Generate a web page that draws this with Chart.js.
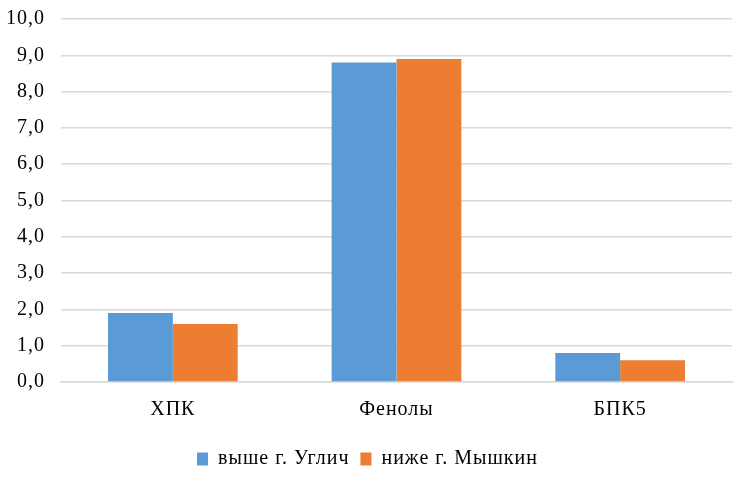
<!DOCTYPE html>
<html>
<head>
<meta charset="utf-8">
<script src="https://cdn.jsdelivr.net/npm/chart.js@4"></script>
<style>
  html, body { margin: 0; padding: 0; background: #fff; overflow: hidden; }
  #wrap { width: 735px; height: 491px; position: relative; top: -9px; }
</style>
</head>
<body>
<div id="wrap"><canvas id="chart"></canvas></div>
<script>
const categories = ['ХПК', 'Фенолы', 'БПК5'];
const seriesNames = ['выше г. Углич', 'ниже г. Мышкин'];
const aboveUglich = [1.9, 8.8, 0.8];
const belowMyshkin = [1.6, 8.9, 0.6];
const seriesColors = ['#5b9bd5', '#ed7d31'];

const font = { family: '"Liberation Serif", "Times New Roman", serif', size: 20 };

// Word-style text is a little wider, so add some letter spacing
const spacing = {
  id: 'spacing',
  beforeUpdate: c => { c.ctx.letterSpacing = '1px'; },
  beforeDraw: c => { c.ctx.letterSpacing = '1px'; }
};

const ctx = document.getElementById('chart').getContext('2d');
new Chart(ctx, {
  type: 'bar',
  data: {
    labels: categories,
    datasets: [
      { label: seriesNames[0], data: aboveUglich, backgroundColor: seriesColors[0] },
      { label: seriesNames[1], data: belowMyshkin, backgroundColor: seriesColors[1] }
    ]
  },
  options: {
    responsive: true,
    maintainAspectRatio: false,
    animation: false,
    datasets: { bar: { barPercentage: 1, categoryPercentage: 0.58 } },
    layout: { padding: { top: 0, right: 3, left: 3, bottom: 3 } },
    scales: {
      y: {
        min: 0,
        max: 10,
        afterFit: s => { s.width = 58; },
        ticks: {
          stepSize: 1,
          color: '#000',
          font,
          padding: 16,
          callback: v => v.toFixed(1).replace('.', ',')
        },
        grid: { color: '#d9d9d9', lineWidth: 1.5, drawTicks: false },
        border: { display: false }
      },
      x: {
        ticks: { color: '#000', font, padding: 16 },
        grid: { display: false, drawTicks: false },
        border: { color: '#d9d9d9', width: 1.5 }
      }
    },
    plugins: {
      legend: {
        position: 'bottom',
        labels: { color: '#000', font, boxWidth: 11, boxHeight: 13, padding: 11 }
      },
      tooltip: { enabled: false }
    }
  },
  plugins: [spacing]
});
</script>
</body>
</html>
